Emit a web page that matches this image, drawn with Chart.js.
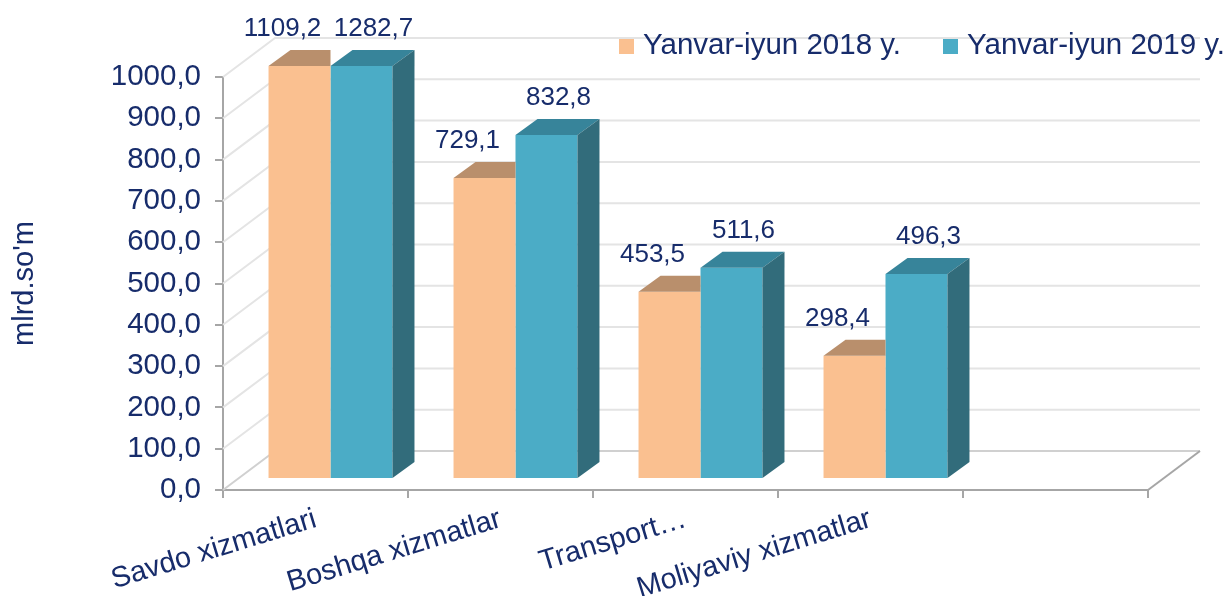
<!DOCTYPE html>
<html>
<head>
<meta charset="utf-8">
<style>
  html, body { margin: 0; padding: 0; background: #fff; }
</style>
<script src="https://cdn.jsdelivr.net/npm/chart.js@4.4.0/dist/chart.umd.min.js"></script>
</head>
<body>
<canvas id="chart" width="1227" height="596"></canvas>
<script>
const categories = ["Savdo xizmatlari", "Boshqa xizmatlar", "Transport…", "Moliyaviy xizmatlar", ""];
const values2018 = [1109.2, 729.1, 453.5, 298.4, null];
const values2019 = [1282.7, 832.8, 511.6, 496.3, null];
const seriesNames = ["Yanvar-iyun 2018 y.", "Yanvar-iyun 2019 y."];
const yTicks = [0, 100, 200, 300, 400, 500, 600, 700, 800, 900, 1000];

const navy = '#172c6b';
const axisGrey = '#a6a6a6';
Chart.defaults.font.family = "'Liberation Sans', Arial, sans-serif";
Chart.defaults.color = navy;

// fake 3d: floor depth, where the bars sit in it, and the bar depth
const FLOOR_X = 52, FLOOR_Y = -39;
const SHIFT_X = 15, SHIFT_Y = -11;
const BAR_X = 22, BAR_Y = -16;

const frontColors = ['#fac090', '#4bacc6'];
const topColors = ['#b98f6c', '#37849a'];
const sideColor = '#326c7b';
const labelNudge = [-17, 12];

function fmt(v) {
  return v.toFixed(1).replace('.', ',');
}

const fake3d = {
  id: 'fake3d',
  beforeDatasetsDraw(chart) {
    const { ctx, chartArea: a, scales: { y } } = chart;
    ctx.save();
    ctx.lineWidth = 2;
    yTicks.forEach(v => {
      const py = y.getPixelForValue(v);
      ctx.strokeStyle = v === 0 ? '#d0d0d0' : '#e4e4e4';
      ctx.beginPath();
      ctx.moveTo(a.left, py);
      ctx.lineTo(a.left + FLOOR_X, py + FLOOR_Y);
      ctx.lineTo(a.right + FLOOR_X, py + FLOOR_Y);
      ctx.stroke();
    });
    ctx.strokeStyle = axisGrey;
    ctx.beginPath();
    ctx.moveTo(a.right, a.bottom);
    ctx.lineTo(a.right + FLOOR_X, a.bottom + FLOOR_Y);
    ctx.stroke();
    ctx.restore();

    // bars are drawn pushed back into the floor
    ctx.save();
    ctx.translate(SHIFT_X, SHIFT_Y);
  },
  afterDatasetsDraw(chart) {
    const { ctx, chartArea: a } = chart;
    chart.data.datasets.forEach((ds, i) => {
      const meta = chart.getDatasetMeta(i);
      meta.data.forEach((bar, j) => {
        const val = ds.data[j];
        if (val == null) return;
        const p = bar.getProps(['x', 'y', 'base', 'width'], true);
        const l = p.x - p.width / 2, r = p.x + p.width / 2;
        const t = Math.max(p.y, a.top);
        const b = p.base;

        // top face (the first series is hidden on the right by the second one)
        ctx.fillStyle = topColors[i];
        ctx.beginPath();
        ctx.moveTo(l, t);
        ctx.lineTo(r, t);
        if (i === 0) {
          ctx.lineTo(r, t + BAR_Y);
        } else {
          ctx.lineTo(r + BAR_X, t + BAR_Y);
        }
        ctx.lineTo(l + BAR_X, t + BAR_Y);
        ctx.closePath();
        ctx.fill();

        if (i === 1) {
          ctx.fillStyle = sideColor;
          ctx.beginPath();
          ctx.moveTo(r, t);
          ctx.lineTo(r + BAR_X, t + BAR_Y);
          ctx.lineTo(r + BAR_X, b + BAR_Y);
          ctx.lineTo(r, b);
          ctx.closePath();
          ctx.fill();
        }

        ctx.fillStyle = navy;
        ctx.font = "26px 'Liberation Sans', Arial, sans-serif";
        ctx.textAlign = 'center';
        ctx.textBaseline = 'middle';
        ctx.fillText(fmt(val), p.x + labelNudge[i], t + BAR_Y - 21);
      });
    });
    ctx.restore();
  },
  afterDraw(chart) {
    const { ctx } = chart;
    const boxX = [619, 943];
    ctx.save();
    ctx.font = "29.5px 'Liberation Sans', Arial, sans-serif";
    ctx.textBaseline = 'middle';
    ctx.textAlign = 'left';
    seriesNames.forEach((name, i) => {
      ctx.fillStyle = frontColors[i];
      ctx.fillRect(boxX[i], 39, 15, 15);
      ctx.fillStyle = navy;
      ctx.fillText(name, boxX[i] + 24, 46);
    });
    ctx.restore();
  }
};

new Chart(document.getElementById('chart'), {
  type: 'bar',
  data: {
    labels: categories,
    datasets: [
      { label: seriesNames[0], data: values2018, backgroundColor: frontColors[0] },
      { label: seriesNames[1], data: values2019, backgroundColor: frontColors[1] }
    ]
  },
  options: {
    responsive: false,
    animation: false,
    layout: { padding: { top: 77, right: 79, left: 8, bottom: 0 } },
    datasets: { bar: { barPercentage: 1, categoryPercentage: 0.67, borderWidth: 0 } },
    plugins: {
      legend: { display: false },
      tooltip: { enabled: false }
    },
    scales: {
      x: {
        ticks: { font: { size: 29 }, autoSkip: false, minRotation: 17, maxRotation: 17, padding: 4 },
        grid: { drawOnChartArea: false, offset: true, tickLength: 8, color: axisGrey, lineWidth: 2 },
        border: { color: axisGrey, width: 2 },
        afterFit(s) { s.height = 106; }
      },
      y: {
        min: 0,
        max: 1000,
        afterBuildTicks(s) { s.ticks = yTicks.map(v => ({ value: v })); },
        ticks: { font: { size: 29.5 }, padding: 14, callback: v => fmt(v) },
        grid: { drawOnChartArea: false, tickLength: 8, color: axisGrey, lineWidth: 2 },
        border: { color: axisGrey, width: 2 },
        title: { display: true, text: "mlrd.so'm", font: { size: 29 }, padding: 0 },
        afterFit(s) { s.width = 215; }
      }
    }
  },
  plugins: [fake3d]
});
</script>
</body>
</html>
